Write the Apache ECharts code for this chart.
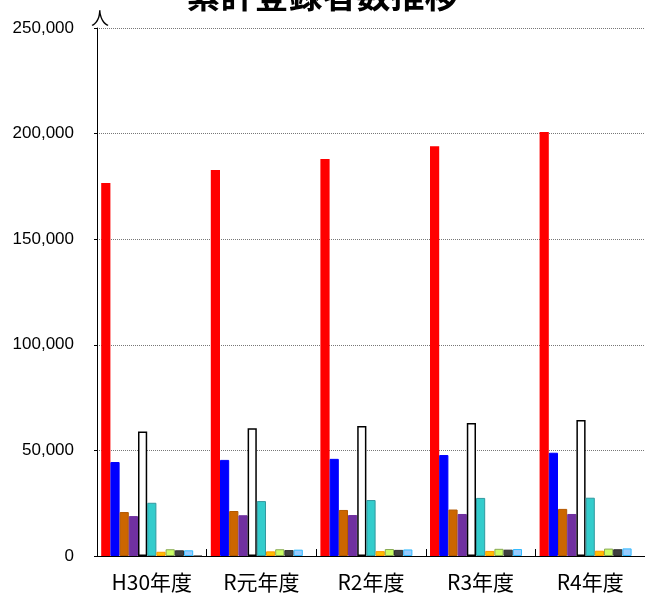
<!DOCTYPE html>
<html><head><meta charset="utf-8">
<script src="https://cdn.jsdelivr.net/npm/echarts@6/dist/echarts.min.js"></script>
<style>html,body{margin:0;padding:0;background:#fff}#c{width:645px;height:598px}</style>
</head><body><div id="c"></div>
<script>
const categories = ['H30年度','R元年度','R2年度','R3年度','R4年度'];
const s1 = [176600, 182800, 188000, 194000, 200800];
const s2 = [44500, 45500, 46000, 47800, 48900];
const s3 = [20800, 21300, 21800, 22000, 22300];
const s4 = [18900, 19300, 19400, 19900, 19900];
const s5 = [58900, 60500, 61500, 63000, 64400];
const s6 = [25200, 26000, 26500, 27500, 27600];
const s7 = [2000, 2200, 2300, 2400, 2500];
const s8 = [3200, 3200, 3300, 3400, 3500];
const s9 = [2700, 2800, 2900, 3000, 3200];
const s10 = [2700, 3000, 3100, 3300, 3600];
const s11 = [400, null, null, null, null];
const yTicks = [0, 50000, 100000, 150000, 200000, 250000];

const styles = [
  {c:'#FF0000', b:'#FF0000', w:2},
  {c:'#0000FF', b:'#0000FF', w:1},
  {c:'#CC6600', b:'#B35900', w:1},
  {c:'#7030A0', b:'#7030A0', w:1},
  {c:'#FFFFFF', b:'#000000', w:1.5},
  {c:'#33CCCC', b:'#3399A0', w:1},
  {c:'#FFC000', b:'#FF9900', w:1},
  {c:'#CCFF66', b:'#88AA55', w:1},
  {c:'#404040', b:'#303030', w:1},
  {c:'#99CCFF', b:'#33BBFF', w:1},
  {c:'#808080', b:'#808080', w:1}
];
const data = [s1,s2,s3,s4,s5,s6,s7,s8,s9,s10,s11];
const series = data.map((d,i)=>({
  type:'bar', data:d, barWidth:9.2, barGap:'0%', barCategoryGap:'10%',
  itemStyle:{color:styles[i].c, borderColor:styles[i].b, borderWidth:styles[i].w},
  animation:false
}));

const chart = echarts.init(document.getElementById('c'));
chart.setOption({
  animation:false,
  title:{text:'累計登録者数推移', left:'center', top:-27,
    textStyle:{fontSize:34, fontWeight:'bold', color:'#000', fontFamily:'Noto Sans CJK JP'}},
  grid:{left:97, right:0, top:28, bottom:42},
  xAxis:{type:'category', data:categories,
    axisLine:{lineStyle:{color:'#000', width:1}},
    axisTick:{show:true, inside:true, length:7, interval:0, lineStyle:{color:'#000'}},
    axisLabel:{fontSize:21, color:'#000', margin:16, interval:0, hideOverlap:false, fontFamily:'Noto Sans CJK JP'}},
  yAxis:{type:'value', min:0, max:250000, interval:50000,
    name:'人', nameLocation:'end', nameGap:1,
    nameTextStyle:{fontSize:18, color:'#000', align:'center', padding:[0,0,0,6], fontFamily:'Noto Sans CJK JP'},
    axisLine:{show:true, lineStyle:{color:'#000'}},
    axisTick:{show:true, length:3, lineStyle:{color:'#000'}},
    splitLine:{lineStyle:{type:'dotted', color:'#777', width:1}},
    axisLabel:{fontSize:17, color:'#000', margin:23, fontFamily:'Liberation Sans',
      formatter:v=>v.toLocaleString('en-US')}},
  series:series
});
</script></body></html>
